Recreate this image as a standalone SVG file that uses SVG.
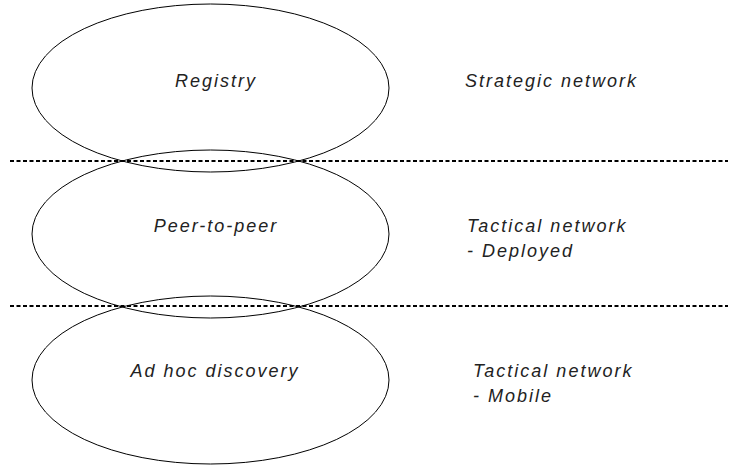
<svg xmlns="http://www.w3.org/2000/svg" width="731" height="470" viewBox="0 0 731 470">
<style>
.n{fill:none;stroke:#000;stroke-width:1}
.t{font-family:"Liberation Sans",Arial,sans-serif;font-style:italic;font-size:18px;letter-spacing:2px;fill:#222}
.m{text-anchor:middle}
.d{stroke:#000;stroke-width:2;stroke-dasharray:4 2.5;fill:none}
</style>
<rect width="731" height="470" fill="#fff"/>
<g id="registry"><ellipse class="n" cx="210.5" cy="88" rx="178.5" ry="84"/><text class="t m" x="216" y="87">Registry</text></g>
<g id="peer"><ellipse class="n" cx="210.5" cy="234" rx="178.5" ry="84"/><text class="t m" x="216" y="232">Peer-to-peer</text></g>
<g id="adhoc"><ellipse class="n" cx="210.5" cy="380" rx="178.5" ry="84"/><text class="t m" x="215" y="377">Ad hoc discovery</text></g>
<g id="connectors"><line class="d" x1="10" y1="161" x2="728" y2="161"/><line class="d" x1="10" y1="306" x2="728" y2="306"/></g>
<g id="strategic"><text class="t" x="465" y="87">Strategic network</text></g>
<g id="deployed"><text class="t" x="467" y="232">Tactical network</text><text class="t" x="467" y="257">- Deployed</text></g>
<g id="mobile"><text class="t" x="473" y="377">Tactical network</text><text class="t" x="473" y="402">- Mobile</text></g>
</svg>
